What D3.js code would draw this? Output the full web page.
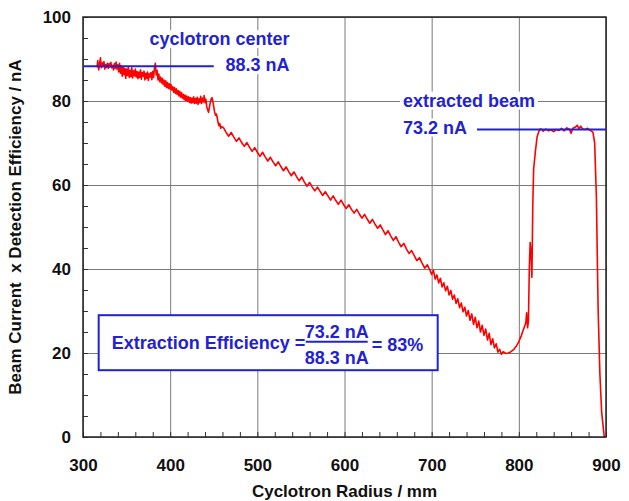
<!DOCTYPE html>
<html>
<head>
<meta charset="utf-8">
<script src="https://cdn.jsdelivr.net/npm/d3@7"></script>
<style>
   body { margin: 0; background: #fff; }
   text { font-family: "Liberation Sans", Arial, sans-serif; font-weight: bold; }
</style>
</head>
<body>
<div id="chart"></div>
<script>
const radius = [
   316,317,318,319,320,321,322,323,324,325,326,327,328,329,330,331,332,333,334,335,336,337,338,339,340,
   341,342,343,344,345,346,347,348,349,350,351,352,353,354,355,356,357,358,359,360,361,362,363,364,365,
   366,367,368,369,370,371,372,373,374,375,376,377,378,379,380,381,382,383,384,385,386,387,388,389,390,
   391,392,393,394,395,396,397,398,399,400,401,402,403,404,405,406,407,408,409,410,411,412,413,414,415,
   416,417,418,419,420,421,422,423,424,425,426,427,428,429,430,431,432,433,434,435,436,437,438,439,440,
   441,442,443,444,445,446,447,448,449,450,451,452,453,454,455,456,457,458,459,
   461,464,467,470,473,476,479,482,485,488,491,494,497,500,503,506,509,512,515,518,521,524,527,530,533,
   536,539,542,545,548,551,554,557,560,563,566,569,572,575,578,581,584,587,590,593,596,599,602,605,608,
   611,614,617,620,623,626,629,632,635,638,641,644,647,650,653,656,659,662,665,668,671,674,677,680,683,
   686,689,692,695,698,
   700,702,704,706,708,710,712,714,716,718,720,722,724,726,728,730,732,734,736,738,740,742,744,746,748,
   750,752,754,756,758,760,762,764,766,768,770,772,774,776,778,780,782,785,788,791,794,797,800,803,806,
   808,809,810,811,812,813,814,815,816,817,819,821,823,825,828,831,834,837,840,843,846,849,852,855,858,
   860,862,865,867,869,871,873,876,879,882,885,887,889,890,891,893,895,897,898
]
const current = [
   88.0,89.6,87.4,88.8,90.3,87.9,89.1,88.2,89.4,87.6,88.7,88.0,89.0,87.8,88.9,88.1,89.2,87.9,88.5,87.4,88.9,87.8,89.3,87.6,88.6,
   86.9,89.0,86.6,88.4,85.9,88.1,86.3,87.8,85.4,87.6,86.1,88.0,85.6,87.3,85.8,87.9,85.5,87.2,86.0,87.6,85.7,87.0,85.3,86.9,85.6,
   87.4,85.2,86.8,85.9,87.1,85.0,86.6,85.4,86.9,84.9,86.5,85.7,86.8,85.1,87.0,85.6,87.9,89.0,86.2,87.3,85.0,86.4,84.6,85.7,84.3,
   85.4,83.9,85.0,83.5,84.8,83.2,84.4,83.0,84.1,82.8,83.9,82.6,83.4,82.1,83.2,81.8,82.9,81.6,82.5,81.2,82.3,80.9,82.0,80.7,81.6,
   80.3,81.4,80.1,81.2,80.0,81.0,79.7,80.8,79.5,80.7,79.6,81.0,79.4,80.6,79.5,80.9,79.2,80.5,79.6,81.1,79.4,80.7,79.8,81.3,79.6,
   80.4,78.6,77.9,77.3,78.5,79.6,80.4,80.8,79.9,78.6,77.4,76.6,76.9,76.0,74.8,74.1,74.6,73.5,73.9,
   73.7,72.6,71.6,72.5,71.4,70.4,71.2,70.1,69.2,70.1,69.0,68.0,68.9,67.8,66.8,67.8,66.7,65.7,66.6,65.5,64.6,65.5,64.4,63.4,64.3,
   63.2,62.2,63.1,62.0,61.0,61.9,60.7,59.7,60.6,59.5,58.6,59.5,58.5,57.5,58.4,57.4,56.4,57.4,56.3,55.4,56.4,55.3,54.4,55.3,54.2,
   53.3,54.2,53.1,52.1,53.0,51.9,50.9,51.8,50.7,49.7,50.5,49.3,48.2,49.1,47.9,46.8,47.7,46.4,45.3,46.1,44.8,43.7,44.4,43.2,42.0,
   42.7,41.4,40.2,41.0,39.7,
   38.7,39.7,37.6,38.6,36.7,37.8,35.7,36.7,34.8,35.9,33.8,34.9,32.8,33.8,31.8,32.9,30.8,31.9,29.8,30.9,28.8,30.1,27.8,29.3,26.8,
   28.5,26.0,27.6,25.0,26.6,24.2,25.7,23.1,24.7,22.0,23.4,21.2,22.2,20.2,20.9,19.7,20.3,19.9,20.0,20.3,20.8,21.6,22.7,24.2,26.0,
   27.2,29.6,26.0,27.5,40.0,46.3,44.0,38.0,55.0,63.8,68.0,71.5,72.8,73.4,72.8,73.3,72.9,73.1,72.7,73.2,73.0,73.5,72.9,73.6,73.3,
   72.3,73.5,73.8,74.2,73.4,74.0,73.4,73.2,73.5,73.0,72.6,70.0,57.0,43.0,30.2,15.0,6.0,2.0,0.0
]

const xTicks = [300, 400, 500, 600, 700, 800, 900]
const yTicks = [0, 20, 40, 60, 80, 100]
const xMinorTicks = d3.range(300, 901, 20)
const yMinorTicks = d3.range(0, 101, 5)

// Valeurs des annotations
const centerCurrent = 88.3
const extractedCurrent = 73.2
const efficiency = 83

const width = 629, height = 501
const margin = {top: 17, right: 23, bottom: 64, left: 83}
const innerW = width - margin.left - margin.right
const innerH = height - margin.top - margin.bottom

const blue = "#2222d4"
const red = "#ff0000"

const svg = d3.select("#chart")
   .append("svg")
   .attr("width", width)
   .attr("height", height)

const g = svg.append("g").attr("transform", `translate(${margin.left},${margin.top})`)

const x = d3.scaleLinear().domain([300, 900]).range([0, innerW])
const y = d3.scaleLinear().domain([0, 100]).range([innerH, 0])

// Grille principale
g.append("g")
   .attr("transform", `translate(0,${innerH})`)
   .call(d3.axisBottom(x).tickValues(xTicks).tickSize(-innerH).tickFormat(""))
   .call(a => a.select(".domain").remove())
   .selectAll("line").attr("stroke", "#7a7a7a")

g.append("g")
   .call(d3.axisLeft(y).tickValues(yTicks).tickSize(-innerW).tickFormat(""))
   .call(a => a.select(".domain").remove())
   .selectAll("line").attr("stroke", "#7a7a7a")

// Petites graduations vers l'intérieur
g.append("g")
   .attr("transform", `translate(0,${innerH})`)
   .call(d3.axisBottom(x).tickValues(xMinorTicks).tickSize(-5).tickFormat(""))
   .call(a => a.select(".domain").remove())
   .selectAll("line").attr("stroke", "#333")

g.append("g")
   .call(d3.axisLeft(y).tickValues(yMinorTicks).tickSize(-5).tickFormat(""))
   .call(a => a.select(".domain").remove())
   .selectAll("line").attr("stroke", "#333")

// Courbe
const line = d3.line()
   .x((d, i) => x(radius[i]))
   .y(d => y(d))

g.append("path")
   .datum(current)
   .attr("d", line)
   .attr("fill", "none")
   .attr("stroke", red)
   .attr("stroke-width", 1.6)
   .attr("stroke-linejoin", "round")

// Cadre
g.append("rect")
   .attr("width", innerW)
   .attr("height", innerH)
   .attr("fill", "none")
   .attr("stroke", "#222")
   .attr("stroke-width", 1.5)

// Labels des axes
g.append("g")
   .attr("transform", `translate(0,${innerH})`)
   .call(d3.axisBottom(x).tickValues(xTicks).tickSize(0).tickPadding(22))
   .call(a => a.select(".domain").remove())
   .selectAll("text")
   .attr("font-size", 17)
   .attr("font-family", "Liberation Sans, Arial, sans-serif")
   .attr("font-weight", "bold")
   .attr("fill", "#111")

g.append("g")
   .call(d3.axisLeft(y).tickValues(yTicks).tickSize(0).tickPadding(12))
   .call(a => a.select(".domain").remove())
   .selectAll("text")
   .attr("font-size", 17)
   .attr("font-family", "Liberation Sans, Arial, sans-serif")
   .attr("font-weight", "bold")
   .attr("fill", "#111")

svg.append("text")
   .attr("x", margin.left + x(600))
   .attr("y", 497)
   .attr("text-anchor", "middle")
   .attr("font-size", 17)
   .attr("fill", "#111")
   .text("Cyclotron Radius / mm")

svg.append("text")
   .attr("transform", `translate(21,${margin.top + innerH / 2}) rotate(-90)`)
   .attr("text-anchor", "middle")
   .attr("font-size", 17)
   .attr("fill", "#111")
   .text("Beam Current\u00a0 x Detection Efficiency / nA")

// Annotations avec fond blanc
function label(txt, px, py, anchor) {
   const t = g.append("text")
      .attr("x", px)
      .attr("y", py)
      .attr("text-anchor", anchor)
      .attr("font-size", 18)
      .attr("fill", blue)
      .text(txt)
   const b = t.node().getBBox()
   g.insert("rect", function () { return t.node() })
      .attr("x", b.x - 3)
      .attr("y", b.y + 1)
      .attr("width", b.width + 6)
      .attr("height", b.height - 2)
      .attr("fill", "#fff")
}

label("cyclotron center", x(537), y(centerCurrent) - 21, "end")
label(centerCurrent + " nA", x(537), y(centerCurrent) + 5, "end")
label("extracted beam", x(667), y(extractedCurrent) - 23, "start")
label(extractedCurrent + " nA", x(667), y(extractedCurrent) + 4, "start")

g.append("line")
   .attr("x1", x(300)).attr("x2", x(450))
   .attr("y1", y(centerCurrent)).attr("y2", y(centerCurrent))
   .attr("stroke", blue).attr("stroke-width", 2)

g.append("line")
   .attr("x1", x(752)).attr("x2", x(900))
   .attr("y1", y(extractedCurrent)).attr("y2", y(extractedCurrent))
   .attr("stroke", blue).attr("stroke-width", 2)

// Encadré efficacité d'extraction
const box = g.append("g").attr("transform", `translate(${x(318)},${y(29)})`)
box.append("rect")
   .attr("width", 339)
   .attr("height", 55)
   .attr("fill", "#fff")
   .attr("stroke", blue)
   .attr("stroke-width", 2)

box.append("text")
   .attr("x", 13).attr("y", 34)
   .attr("font-size", 18).attr("fill", blue)
   .text("Extraction Efficiency =")

box.append("text")
   .attr("x", 238).attr("y", 23)
   .attr("text-anchor", "middle")
   .attr("font-size", 18).attr("fill", blue)
   .text(extractedCurrent + " nA")

box.append("line")
   .attr("x1", 207).attr("x2", 269)
   .attr("y1", 26.5).attr("y2", 26.5)
   .attr("stroke", blue).attr("stroke-width", 2)

box.append("text")
   .attr("x", 238).attr("y", 49)
   .attr("text-anchor", "middle")
   .attr("font-size", 18).attr("fill", blue)
   .text(centerCurrent + " nA")

box.append("text")
   .attr("x", 273).attr("y", 36)
   .attr("font-size", 18).attr("fill", blue)
   .text("= " + efficiency + "%")
</script>
</body>
</html>
